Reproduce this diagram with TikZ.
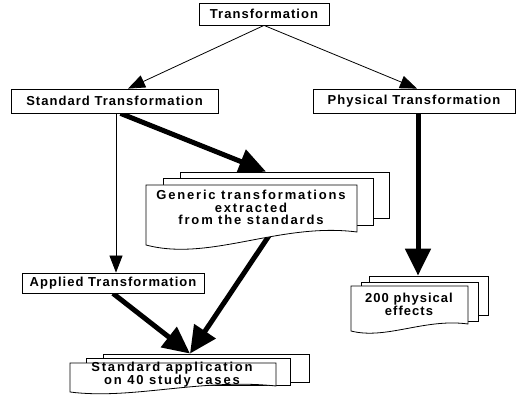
\documentclass[tikz,border=0pt]{standalone}
\usepackage{fontspec}
\setmainfont{Liberation Sans}
\usetikzlibrary{arrows.meta}
\pgfdeclarelayer{bg}
\pgfsetlayers{bg,main}
\begin{document}
\begin{tikzpicture}[x=1pt,y=-1pt,
  every node/.style={font=\bfseries\fontsize{13}{12.8}\selectfont},
  boxtext/.style={font=\bfseries\fontsize{13}{12.8}\selectfont\addfontfeature{LetterSpace=8}},
  doctext/.style={align=center,inner sep=0pt,
    font=\bfseries\fontsize{13}{12.8}\selectfont\addfontfeature{LetterSpace=14}},
  box/.style={draw, line width=0.8pt, fill=white, inner sep=0pt, boxtext},
  sheet/.style={draw, line width=0.8pt, fill=white, inner sep=0pt},
  docline/.style={draw, line width=0.8pt, fill=white},
  thinarrow/.style={line width=0.8pt, -{Triangle[length=17pt,width=13pt]}},
  thickarrow/.style={line width=5pt, -{Triangle[length=27pt,width=25pt]}},
]
\useasboundingbox (0,0) rectangle (519,395);

% --- plain boxes
\node[box, minimum width=130pt, minimum height=22pt] (T)  at (264,14)    {Transformation};
\node[box, minimum width=207pt, minimum height=24pt] (ST) at (114.5,101) {Standard Transformation};
\node[box, minimum width=202pt, minimum height=24pt] (PT) at (414,101)   {Physical Transformation};
\node[box, minimum width=182pt, minimum height=20pt] (AT) at (113,283)   {Applied Transformation};

% --- stack: generic transformations
\node[sheet, minimum width=209pt, minimum height=46pt] (GenBack) at (284.5,195) {};
\node[sheet, minimum width=210pt, minimum height=47pt] (GenMid)  at (268,201.5) {};
\draw[docline] (146,245) -- (146,185) -- (357,185) -- (357,232)
  .. controls (280,222) and (210,262) .. cycle;
\node[doctext] (Gen) at (251,207.5) {Generic transformations\\extracted\\from the standards};

% --- stack: 200 physical effects
\node[sheet, minimum width=119pt, minimum height=39pt] (PhyBack) at (428.5,295.5) {};
\node[sheet, minimum width=117pt, minimum height=39pt] (PhyMid)  at (419.5,301.5) {};
\draw[docline] (351,331) -- (351,286) -- (468,286) -- (468,324)
  .. controls (425,318) and (386,340) .. cycle;
\node[doctext, font=\bfseries\fontsize{13}{12.8}\selectfont\addfontfeature{LetterSpace=8}]
  (Phy) at (409,304.5) {200 physical\\effects};

% --- stack: standard application
\node[sheet, minimum width=206pt, minimum height=28pt] (AppBack) at (206,368) {};
\node[sheet, minimum width=204pt, minimum height=27pt] (AppMid)  at (188,371.5) {};
\draw[docline] (70,392) -- (70,363) -- (276,363) -- (276,386)
  .. controls (201,378) and (132,400) .. cycle;
\node[doctext] (App) at (172,375) {Standard application\\on 40 study cases};

% --- connectors, kept beneath the sheets
\begin{pgfonlayer}{bg}
  \draw[thinarrow] (T.south) -- ([xshift=13.5pt]ST.north);
  \draw[thinarrow] (T.south) -- ([xshift=3pt]PT.north);
  \draw[thinarrow] ([xshift=1.5pt]ST.south) -- ([xshift=3pt]AT.north);
  \draw[thickarrow] ([xshift=6pt]ST.south) -- ([xshift=-18.5pt]GenBack.north);
  \draw[thickarrow] ([xshift=4pt]PT.south) -- ([xshift=-10.5pt]PhyBack.north);
  \draw[thickarrow] (AT.south) -- ([xshift=-16pt]AppBack.north);
  \draw[thickarrow] ([xshift=25pt]Gen.south) -- ([xshift=-16pt]AppBack.north);
\end{pgfonlayer}
\end{tikzpicture}
\end{document}
